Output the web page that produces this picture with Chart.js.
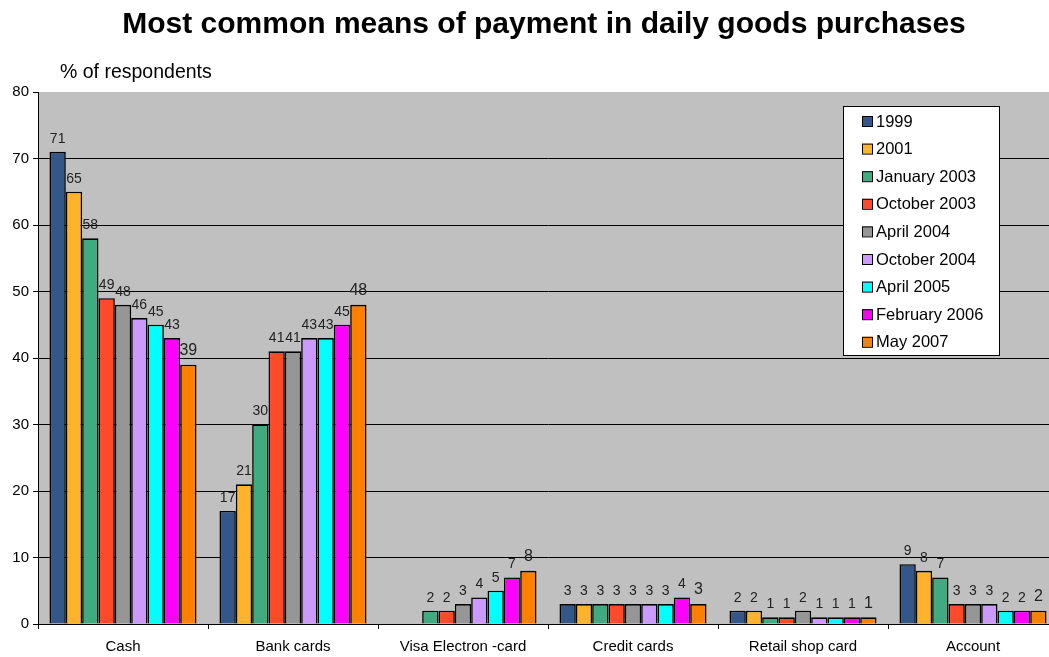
<!DOCTYPE html>
<html>
<head>
<meta charset="utf-8">
<script src="https://cdn.jsdelivr.net/npm/chart.js@4.4.0/dist/chart.umd.min.js"></script>
<style>
  html, body { margin: 0; padding: 0; background: #fff; overflow: hidden; }
  #wrap { position: relative; width: 1062px; height: 657px; }
</style>
</head>
<body>
<div id="wrap"><canvas id="payChart"></canvas></div>
<script>
// --- Data ---
const categories = ['Cash', 'Bank cards', 'Visa Electron -card', 'Credit cards', 'Retail shop card', 'Account'];
const seriesNames = ['1999', '2001', 'January 2003', 'October 2003', 'April 2004', 'October 2004', 'April 2005', 'February 2006', 'May 2007'];
const seriesColors = ['#34578A', '#FFB32A', '#40AA80', '#FF4A2A', '#969696', '#CC99FF', '#00FFFF', '#FF00FF', '#FF8000'];

const v1999   = [71, 17, null, 3, 2, 9];
const v2001   = [65, 21, null, 3, 2, 8];
const vJan03  = [58, 30, 2, 3, 1, 7];
const vOct03  = [49, 41, 2, 3, 1, 3];
const vApr04  = [48, 41, 3, 3, 2, 3];
const vOct04  = [46, 43, 4, 3, 1, 3];
const vApr05  = [45, 43, 5, 3, 1, 2];
const vFeb06  = [43, 45, 7, 4, 1, 2];
const vMay07  = [39, 48, 8, 3, 1, 2];
const seriesValues = [v1999, v2001, vJan03, vOct03, vApr04, vOct04, vApr05, vFeb06, vMay07];

const yTicks = [0, 10, 20, 30, 40, 50, 60, 70, 80];

const FONT = 'Arial, "Liberation Sans", sans-serif';

// --- Labels, title, legend drawn on the canvas ---
const extrasPlugin = {
    id: 'extras',
    beforeDraw(chart) {
        const { ctx, chartArea: a } = chart;
        ctx.save();
        ctx.fillStyle = '#C0C0C0';
        ctx.fillRect(a.left, a.top, a.right - a.left, a.bottom - a.top);
        ctx.restore();
    },
    afterDatasetsDraw(chart) {
        const ctx = chart.ctx;
        ctx.save();
        ctx.textAlign = 'center';
        ctx.textBaseline = 'bottom';
        ctx.fillStyle = '#222';
        chart.data.datasets.forEach(function (ds, i) {
            const meta = chart.getDatasetMeta(i);
            ctx.font = (i === 8 ? '16px ' : '14px ') + FONT;
            meta.data.forEach(function (bar, j) {
                const v = ds.data[j];
                if (v === null) return;
                ctx.fillText(String(v), bar.x, bar.y - 6);
            });
        });
        ctx.restore();
    },
    afterDraw(chart) {
        const ctx = chart.ctx;
        ctx.save();
        // Title
        ctx.fillStyle = '#000';
        ctx.textAlign = 'center';
        ctx.textBaseline = 'middle';
        ctx.font = 'bold 30px ' + FONT;
        ctx.fillText('Most common means of payment in daily goods purchases', 544, 25);
        // Axis label
        ctx.textAlign = 'left';
        ctx.font = '19.5px ' + FONT;
        ctx.fillText('% of respondents', 60, 73);

        // Legend
        const lx = 843, ly = 106, lw = 156, lh = 249;
        ctx.fillStyle = '#fff';
        ctx.fillRect(lx, ly, lw, lh);
        ctx.strokeStyle = '#000';
        ctx.lineWidth = 1;
        ctx.strokeRect(lx + 0.5, ly + 0.5, lw, lh);
        ctx.font = '16.5px ' + FONT;
        ctx.textBaseline = 'middle';
        seriesNames.forEach(function (name, i) {
            const y = ly + 15 + i * 27.6;
            ctx.fillStyle = seriesColors[i];
            ctx.fillRect(lx + 19, y - 5, 10, 10);
            ctx.strokeStyle = '#000';
            ctx.strokeRect(lx + 19.5, y - 4.5, 10, 10);
            ctx.fillStyle = '#000';
            ctx.fillText(name, lx + 33, y + 1);
        });
        ctx.restore();
    }
};

const datasets = seriesNames.map(function (name, i) {
    return {
        label: name,
        data: seriesValues[i],
        backgroundColor: seriesColors[i],
        borderColor: '#000',
        borderWidth: 1.6,
        borderSkipped: 'start',
        barPercentage: 1.0,
        categoryPercentage: 0.865
    };
});

new Chart(document.getElementById('payChart'), {
    type: 'bar',
    data: { labels: categories, datasets: datasets },
    plugins: [extrasPlugin],
    options: {
        responsive: true,
        maintainAspectRatio: false,
        animation: false,
        devicePixelRatio: 1,
        layout: { padding: { top: 92, left: 0, right: 4, bottom: 0 } },
        plugins: {
            legend: { display: false },
            tooltip: { enabled: false }
        },
        scales: {
            y: {
                min: 0,
                max: 80,
                afterBuildTicks: function (axis) {
                    axis.ticks = yTicks.map(v => ({ value: v }));
                },
                afterFit: function (axis) { axis.width = 38; },
                ticks: {
                    color: '#000',
                    font: { size: 15, family: FONT },
                    padding: 4
                },
                grid: {
                    color: function (c) { return c.tick && c.tick.value === 80 ? 'rgba(0,0,0,0)' : '#000'; },
                    lineWidth: 1,
                    tickLength: 5,
                    tickColor: '#000',
                    drawTicks: true
                },
                border: { display: true, color: '#000', width: 1 }
            },
            x: {
                afterFit: function (axis) { axis.height = 33; },
                ticks: {
                    color: '#000',
                    font: { size: 15, family: FONT },
                    padding: 9,
                    maxRotation: 0,
                    autoSkip: false
                },
                grid: {
                    offset: true,
                    drawOnChartArea: false,
                    tickLength: 5,
                    tickColor: '#000'
                },
                border: { display: true, color: '#000', width: 1 }
            }
        }
    }
});
</script>
</body>
</html>
